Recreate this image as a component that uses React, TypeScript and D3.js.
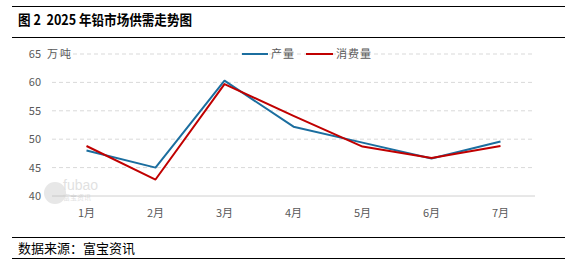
import React from "react";
import * as d3 from "d3";

const categories = ["1月", "2月", "3月", "4月", "5月", "6月", "7月"];
const production = [48.0, 45.0, 60.3, 52.2, 49.4, 46.6, 49.6];
const consumption = [48.8, 42.9, 59.7, 54.1, 48.7, 46.7, 48.8];
const yTicks = [40, 45, 50, 55, 60, 65];

const W = 576;
const H = 264;
const left = 52;
const right = 535;
const top = 54;
const bottom = 196;

export default function App() {
  const x = d3.scaleBand<string>().domain(categories).range([left, right]);
  const y = d3.scaleLinear().domain([40, 65]).range([bottom, top]);
  const line = d3
    .line<number>()
    .x((_, i) => (x(categories[i]) as number) + x.bandwidth() / 2)
    .y((d) => y(d));
  const font = "'Noto Sans CJK SC', 'Noto Sans', sans-serif";
  const blue = "#1B6E9F";
  const red = "#C00000";
  return (
    <svg
      width={W}
      height={H}
      style={{ position: "absolute", left: 0, top: 0, background: "#fff" }}
      fontFamily={font}
    >
      {/* title */}
      <line x1={12} x2={565} y1={6.5} y2={6.5} stroke="#000" strokeWidth={1} />
      <line x1={12} x2={565} y1={37.5} y2={37.5} stroke="#000" strokeWidth={1} />
      <text x={18} y={25} fontSize={14} fontWeight="bold" fill="#000" textLength={174} lengthAdjust="spacingAndGlyphs">
        {"图 2\u00a0 2025 年铅市场供需走势图"}
      </text>

      {/* grid */}
      {yTicks.map((t) =>
        t === 40 ? null : (
          <line
            key={t}
            x1={left}
            x2={right}
            y1={y(t)}
            y2={y(t)}
            stroke="#d9d9d9"
            strokeWidth={1}
            strokeDasharray="4 3"
          />
        )
      )}
      <line x1={left} x2={right} y1={bottom} y2={bottom} stroke="#d0d0d0" strokeWidth={1} />

      {/* y labels */}
      {yTicks.map((t) => (
        <text key={t} x={41} y={y(t) + 4} fontSize={11} fill="#595959" textAnchor="end">
          {t}
        </text>
      ))}
      <text x={47} y={y(65) + 4} fontSize={11} fill="#595959" letterSpacing={2}>
        万吨
      </text>

      {/* watermark */}
      <g opacity={0.35}>
        <circle cx={55} cy={193} r={11} fill="#bbb" />
        <text x={63} y={190} fontSize={14} fill="#aaa" fontFamily="Arial, sans-serif">
          fubao
        </text>
        <text x={63} y={200} fontSize={7} fill="#aaa">
          富宝资讯
        </text>
      </g>

      {/* x labels */}
      {categories.map((c) => (
        <text
          key={c}
          x={(x(c) as number) + x.bandwidth() / 2}
          y={217}
          fontSize={11}
          fill="#595959"
          textAnchor="middle"
        >
          {c}
        </text>
      ))}

      {/* lines */}
      <path d={line(production) || ""} fill="none" stroke={blue} strokeWidth={2} strokeLinejoin="round" />
      <path d={line(consumption) || ""} fill="none" stroke={red} strokeWidth={2} strokeLinejoin="round" />

      {/* legend */}
      <line x1={242} x2={268} y1={top} y2={top} stroke={blue} strokeWidth={2} />
      <text x={271} y={top + 4} fontSize={11} fill="#595959" letterSpacing={1}>
        产量
      </text>
      <line x1={306} x2={333} y1={top} y2={top} stroke={red} strokeWidth={2} />
      <text x={336} y={top + 4} fontSize={11} fill="#595959" letterSpacing={1}>
        消费量
      </text>

      {/* footer */}
      <line x1={12} x2={565} y1={237.5} y2={237.5} stroke="#000" strokeWidth={1} />
      <line x1={12} x2={565} y1={258.5} y2={258.5} stroke="#000" strokeWidth={1} />
      <text x={18} y={253} fontSize={13} fill="#000">
        数据来源：富宝资讯
      </text>
    </svg>
  );
}
